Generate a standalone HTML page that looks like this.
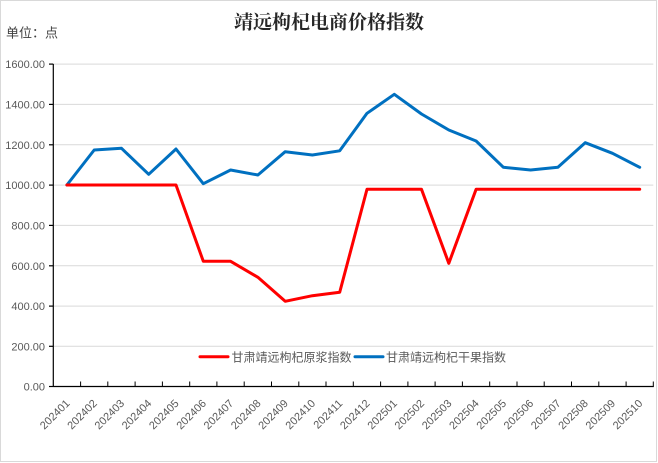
<!DOCTYPE html>
<html>
<head>
<meta charset="utf-8">
<style>
html,body{margin:0;padding:0;background:#fff;}
svg{display:block;}
</style>
</head>
<body>
<svg width="658" height="463" viewBox="0 0 658 463" xmlns="http://www.w3.org/2000/svg">
  <rect x="0.5" y="0.5" width="656" height="461" fill="#fff" stroke="#d9d9d9" stroke-width="1"/>
  <!-- title -->
  <text x="329" y="28.5" text-anchor="middle" font-family="'Liberation Serif','Noto Serif CJK SC',serif" font-weight="bold" font-size="19" fill="#262626">靖远枸杞电商价格指数</text>
  <text x="6" y="37.5" font-family="'Liberation Sans','Noto Sans CJK SC',sans-serif" font-size="13" fill="#404040">单位：点</text>

  <!-- gridlines -->
  <g stroke="#d9d9d9" stroke-width="1">
    <line x1="53.3" y1="64.1" x2="653.3" y2="64.1"/>
    <line x1="53.3" y1="104.4" x2="653.3" y2="104.4"/>
    <line x1="53.3" y1="144.8" x2="653.3" y2="144.8"/>
    <line x1="53.3" y1="185.1" x2="653.3" y2="185.1"/>
    <line x1="53.3" y1="225.4" x2="653.3" y2="225.4"/>
    <line x1="53.3" y1="265.8" x2="653.3" y2="265.8"/>
    <line x1="53.3" y1="306.1" x2="653.3" y2="306.1"/>
    <line x1="53.3" y1="346.3" x2="653.3" y2="346.3"/>
  </g>

  <!-- y labels -->
  <g font-family="'Liberation Sans',sans-serif" font-size="11" fill="#595959" text-anchor="end">
    <text x="45" y="68.1">1600.00</text>
    <text x="45" y="108.4">1400.00</text>
    <text x="45" y="148.8">1200.00</text>
    <text x="45" y="189.1">1000.00</text>
    <text x="45" y="229.4">800.00</text>
    <text x="45" y="269.8">600.00</text>
    <text x="45" y="310.1">400.00</text>
    <text x="45" y="350.3">200.00</text>
    <text x="45" y="390.5">0.00</text>
  </g>

  <!-- axes -->
  <g stroke="#000" stroke-width="1.2">
    <line x1="53.3" y1="64" x2="53.3" y2="387"/>
    <line x1="53.3" y1="386.5" x2="653.8" y2="386.5"/>
    <line x1="49" y1="64.1" x2="53.3" y2="64.1"/>
    <line x1="49" y1="104.4" x2="53.3" y2="104.4"/>
    <line x1="49" y1="144.8" x2="53.3" y2="144.8"/>
    <line x1="49" y1="185.1" x2="53.3" y2="185.1"/>
    <line x1="49" y1="225.4" x2="53.3" y2="225.4"/>
    <line x1="49" y1="265.8" x2="53.3" y2="265.8"/>
    <line x1="49" y1="306.1" x2="53.3" y2="306.1"/>
    <line x1="49" y1="346.3" x2="53.3" y2="346.3"/>
    <line x1="49" y1="386.5" x2="53.3" y2="386.5"/>
  </g>
  <g stroke="#000" stroke-width="1">
    <line x1="80.6" y1="381.5" x2="80.6" y2="386.5"/>
    <line x1="107.8" y1="381.5" x2="107.8" y2="386.5"/>
    <line x1="135.1" y1="381.5" x2="135.1" y2="386.5"/>
    <line x1="162.4" y1="381.5" x2="162.4" y2="386.5"/>
    <line x1="189.7" y1="381.5" x2="189.7" y2="386.5"/>
    <line x1="216.9" y1="381.5" x2="216.9" y2="386.5"/>
    <line x1="244.2" y1="381.5" x2="244.2" y2="386.5"/>
    <line x1="271.5" y1="381.5" x2="271.5" y2="386.5"/>
    <line x1="298.8" y1="381.5" x2="298.8" y2="386.5"/>
    <line x1="326.0" y1="381.5" x2="326.0" y2="386.5"/>
    <line x1="353.3" y1="381.5" x2="353.3" y2="386.5"/>
    <line x1="380.6" y1="381.5" x2="380.6" y2="386.5"/>
    <line x1="407.9" y1="381.5" x2="407.9" y2="386.5"/>
    <line x1="435.1" y1="381.5" x2="435.1" y2="386.5"/>
    <line x1="462.4" y1="381.5" x2="462.4" y2="386.5"/>
    <line x1="489.7" y1="381.5" x2="489.7" y2="386.5"/>
    <line x1="517.0" y1="381.5" x2="517.0" y2="386.5"/>
    <line x1="544.2" y1="381.5" x2="544.2" y2="386.5"/>
    <line x1="571.5" y1="381.5" x2="571.5" y2="386.5"/>
    <line x1="598.8" y1="381.5" x2="598.8" y2="386.5"/>
    <line x1="626.1" y1="381.5" x2="626.1" y2="386.5"/>
    <line x1="653.3" y1="381.5" x2="653.3" y2="386.5"/>
  </g>

  <!-- x labels -->
  <g font-family="'Liberation Sans',sans-serif" font-size="11" fill="#595959" text-anchor="end">
    <text transform="translate(70.4,404) rotate(-45)">202401</text>
    <text transform="translate(97.7,404) rotate(-45)">202402</text>
    <text transform="translate(125.0,404) rotate(-45)">202403</text>
    <text transform="translate(152.2,404) rotate(-45)">202404</text>
    <text transform="translate(179.5,404) rotate(-45)">202405</text>
    <text transform="translate(206.8,404) rotate(-45)">202406</text>
    <text transform="translate(234.1,404) rotate(-45)">202407</text>
    <text transform="translate(261.4,404) rotate(-45)">202408</text>
    <text transform="translate(288.7,404) rotate(-45)">202409</text>
    <text transform="translate(315.9,404) rotate(-45)">202410</text>
    <text transform="translate(343.2,404) rotate(-45)">202411</text>
    <text transform="translate(370.5,404) rotate(-45)">202412</text>
    <text transform="translate(397.8,404) rotate(-45)">202501</text>
    <text transform="translate(425.0,404) rotate(-45)">202502</text>
    <text transform="translate(452.3,404) rotate(-45)">202503</text>
    <text transform="translate(479.6,404) rotate(-45)">202504</text>
    <text transform="translate(506.9,404) rotate(-45)">202505</text>
    <text transform="translate(534.1,404) rotate(-45)">202506</text>
    <text transform="translate(561.4,404) rotate(-45)">202507</text>
    <text transform="translate(588.7,404) rotate(-45)">202508</text>
    <text transform="translate(616.0,404) rotate(-45)">202509</text>
    <text transform="translate(643.2,404) rotate(-45)">202510</text>
  </g>

  <!-- series -->
  <polyline fill="none" stroke="#0070C0" stroke-width="3" stroke-linejoin="round" stroke-linecap="round"
    points="66.9,185 94.2,150 121.5,148.3 148.7,174.3 176,149 203.3,183.7 230.6,170 257.9,175 285.2,151.7 312.4,155 339.7,150.8 367,113.3 394.3,94.3 421.5,114 448.8,130 476.1,141 503.4,167.3 530.6,170 557.9,167.3 585.2,142.7 612.5,153.3 639.7,167.3"/>
  <polyline fill="none" stroke="#FF0000" stroke-width="3" stroke-linejoin="round" stroke-linecap="round"
    points="66.9,185 94.2,185 121.5,185 148.7,185 176,185 203.3,261.3 230.6,261.3 257.9,277.3 285.2,301.3 312.4,295.7 339.7,292.3 367,189.3 394.3,189.3 421.5,189.3 448.8,263.3 476.1,189.3 503.4,189.3 530.6,189.3 557.9,189.3 585.2,189.3 612.5,189.3 639.7,189.3"/>

  <!-- legend -->
  <line x1="200" y1="356.7" x2="228" y2="356.7" stroke="#FF0000" stroke-width="3" stroke-linecap="round"/>
  <text x="231.5" y="361.5" font-family="'Liberation Sans','Noto Sans CJK SC',sans-serif" font-size="12" fill="#595959">甘肃靖远枸杞原浆指数</text>
  <line x1="355" y1="356.7" x2="383" y2="356.7" stroke="#0070C0" stroke-width="3" stroke-linecap="round"/>
  <text x="386" y="361.5" font-family="'Liberation Sans','Noto Sans CJK SC',sans-serif" font-size="12" fill="#595959">甘肃靖远枸杞干果指数</text>
</svg>
</body>
</html>
